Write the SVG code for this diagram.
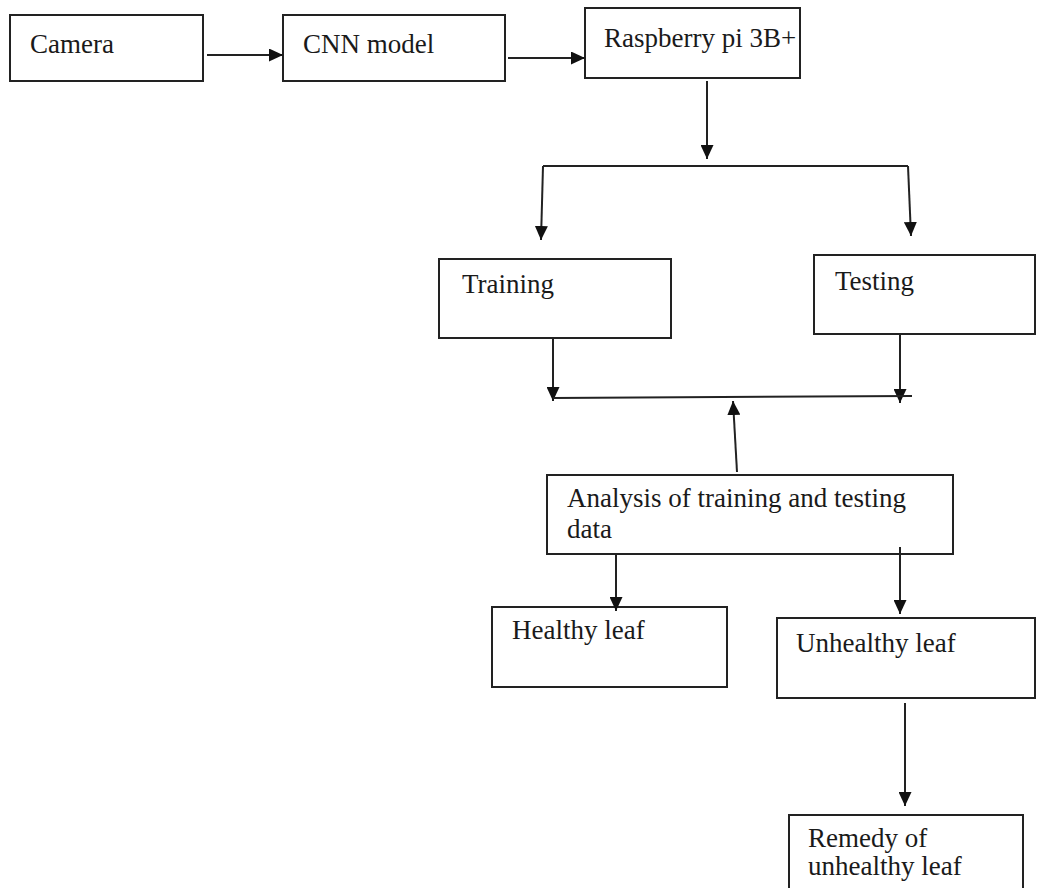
<svg xmlns="http://www.w3.org/2000/svg" width="1041" height="888" viewBox="0 0 1041 888">
<style>
.box{fill:#fff;stroke:#222;stroke-width:2}
.lbl{font-family:"Liberation Serif","Times New Roman",serif;font-size:27px;fill:#1a1a1a}
.con{stroke:#222;stroke-width:2;fill:none}
.arr{marker-end:url(#ah)}
</style>
<defs>
<marker id="ah" markerUnits="userSpaceOnUse" markerWidth="14" markerHeight="13" refX="14" refY="6.5" orient="auto">
<path d="M0,0 L14,6.5 L0,13 z" fill="#111"/>
</marker>
</defs>
<rect width="1041" height="888" fill="#fff"/>
<g id="camera"><rect class="box" x="10" y="15" width="193" height="66"/><text class="lbl" x="30" y="53">Camera</text></g>
<g id="cnn"><rect class="box" x="283" y="15" width="222" height="66"/><text class="lbl" x="303" y="53">CNN model</text></g>
<g id="raspberry"><rect class="box" x="585" y="8" width="215" height="70"/><text class="lbl" x="604" y="47">Raspberry pi 3B+</text></g>
<g id="training"><rect class="box" x="439" y="259" width="232" height="79"/><text class="lbl" x="462" y="293">Training</text></g>
<g id="testing"><rect class="box" x="814" y="255" width="221" height="79"/><text class="lbl" x="835" y="290">Testing</text></g>
<g id="analysis"><rect class="box" x="547" y="475" width="406" height="79"/><text class="lbl" x="567" y="507">Analysis of training and testing</text><text class="lbl" x="567" y="538">data</text></g>
<g id="healthy"><rect class="box" x="492" y="607" width="235" height="80"/><text class="lbl" x="512" y="639">Healthy leaf</text></g>
<g id="unhealthy"><rect class="box" x="777" y="618" width="258" height="80"/><text class="lbl" x="796" y="652">Unhealthy leaf</text></g>
<g id="remedy"><rect class="box" x="789" y="815" width="234" height="90"/><text class="lbl" x="808" y="847">Remedy of</text><text class="lbl" x="808" y="875">unhealthy leaf</text></g>
<g id="connectors">
<line class="con arr" x1="207" y1="55" x2="283" y2="55"/>
<line class="con arr" x1="508" y1="58" x2="585" y2="58"/>
<line class="con arr" x1="707" y1="81" x2="707" y2="159"/>
<line class="con" x1="543" y1="166" x2="908" y2="166"/>
<line class="con arr" x1="543" y1="166" x2="541" y2="240"/>
<line class="con arr" x1="908" y1="166" x2="911" y2="236"/>
<line class="con arr" x1="553" y1="338" x2="553" y2="401"/>
<line class="con arr" x1="900" y1="334" x2="900" y2="403"/>
<line class="con" x1="553" y1="398" x2="912" y2="396"/>
<line class="con arr" x1="737" y1="472" x2="733" y2="401"/>
<line class="con arr" x1="616" y1="554" x2="616" y2="611"/>
<line class="con arr" x1="900" y1="547" x2="900" y2="614"/>
<line class="con arr" x1="905" y1="703" x2="905" y2="806"/>
</g>
</svg>
